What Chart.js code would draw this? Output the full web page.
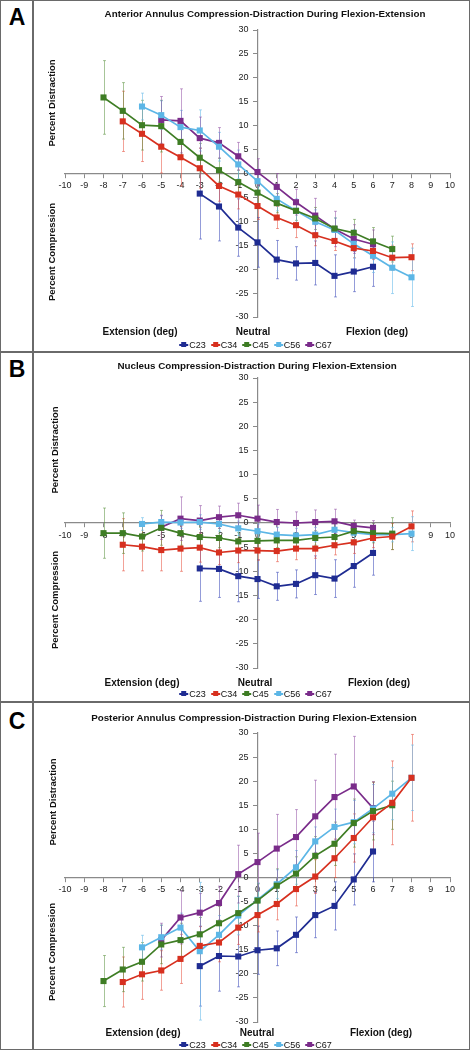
<!DOCTYPE html>
<html>
<head>
<meta charset="utf-8">
<script src="https://cdn.jsdelivr.net/npm/chart.js@4.4.1/dist/chart.umd.min.js"></script>
<style>
body { margin: 0; background: #fff; font-family: "Liberation Sans", Arial, sans-serif; }
#fig { position: relative; width: 470px; height: 1050px; overflow: hidden; background: #fff; }
.line { position: absolute; background: #6a6a6a; }
canvas { position: absolute; left: 33px; }
.t { position: absolute; white-space: nowrap; color: #111; transform: translate(-50%, -50%); }
.title { font-weight: bold; font-size: 9.8px; }
.letter { font-weight: bold; font-size: 23px; color: #000; }
.side { font-weight: bold; font-size: 9.5px; transform: translate(-50%, -50%) rotate(-90deg); }
.foot { font-weight: bold; font-size: 10px; }
.legend { position: absolute; display: flex; align-items: center; font-size: 9px; color: #111; transform: translate(-50%, -50%); white-space: nowrap; }
.legend span.item { display: flex; align-items: center; margin-right: 5px; }
.mk { position: relative; display: inline-block; width: 9px; height: 1.5px; margin-right: 1px; }
.mk::after { content: ''; position: absolute; left: 2px; top: -2px; width: 5px; height: 5px; background: inherit; }
</style>
</head>
<body>
<div id="fig">
  <div class="line" style="left:0;top:0;width:470px;height:1px"></div>
  <div class="line" style="left:0;top:1049px;width:470px;height:1px"></div>
  <div class="line" style="left:0;top:0;width:1px;height:1050px"></div>
  <div class="line" style="left:469px;top:0;width:1px;height:1050px"></div>
  <div class="line" style="left:32px;top:0;width:1.5px;height:1050px"></div>
  <div class="line" style="left:0;top:351px;width:470px;height:1.5px"></div>
  <div class="line" style="left:0;top:701px;width:470px;height:1.5px"></div>

  <canvas id="chartA" width="437" height="351" style="top:0"></canvas>
  <canvas id="chartB" width="437" height="350" style="top:352px"></canvas>
  <canvas id="chartC" width="437" height="348" style="top:702px"></canvas>

  <div class="t letter" style="left:17px;top:17px">A</div>
  <div class="t letter" style="left:17px;top:369px">B</div>
  <div class="t letter" style="left:17px;top:721px">C</div>

  <div class="t title" style="left:265px;top:13px">Anterior Annulus Compression-Distraction During Flexion-Extension</div>
  <div class="t title" style="left:257px;top:365px">Nucleus Compression-Distraction During Flexion-Extension</div>
  <div class="t title" style="left:254px;top:717px">Posterior Annulus Compression-Distraction During Flexion-Extension</div>

  <div class="t side" style="left:51px;top:103px">Percent Distraction</div>
  <div class="t side" style="left:51px;top:252px">Percent Compression</div>
  <div class="t side" style="left:54px;top:450px">Percent Distraction</div>
  <div class="t side" style="left:54px;top:600px">Percent Compression</div>
  <div class="t side" style="left:52px;top:802px">Percent Distraction</div>
  <div class="t side" style="left:51px;top:952px">Percent Compression</div>

  <div class="t foot" style="left:140px;top:331px">Extension (deg)</div>
  <div class="t foot" style="left:253px;top:331px">Neutral</div>
  <div class="t foot" style="left:377px;top:331px">Flexion (deg)</div>
  <div class="t foot" style="left:142px;top:682px">Extension (deg)</div>
  <div class="t foot" style="left:255px;top:682px">Neutral</div>
  <div class="t foot" style="left:379px;top:682px">Flexion (deg)</div>
  <div class="t foot" style="left:143px;top:1032px">Extension (deg)</div>
  <div class="t foot" style="left:257px;top:1032px">Neutral</div>
  <div class="t foot" style="left:381px;top:1032px">Flexion (deg)</div>

  <div class="legend" id="legA" style="left:258px;top:345px"></div>
  <div class="legend" id="legB" style="left:258px;top:694px"></div>
  <div class="legend" id="legC" style="left:258px;top:1045px"></div>
</div>

<script>
// Rotation angle (deg) for every column of the series below
const angles = [-8, -7, -6, -5, -4, -3, -2, -1, 0, 1, 2, 3, 4, 5, 6, 7, 8];
const segments = ['C23', 'C34', 'C45', 'C56', 'C67'];
const xTicks = [-10, 10, 1];
const yTicks = [-30, 30, 5];
const n = null;

// A - anterior annulus (mean, sd)
const aC23 = [n, n, n, n, n, -4.2, -6.9, -11.3, -14.4, -18.0, -18.8, -18.7, -21.4, -20.5, -19.5, n, n];
const aC34 = [n, 10.9, 8.3, 5.6, 3.4, 1.1, -2.6, -4.4, -6.8, -9.2, -10.8, -12.9, -14.1, -15.6, -16.2, -17.6, -17.5];
const aC45 = [15.9, 13.1, 10.1, 9.9, 6.6, 3.3, 0.7, -1.8, -4.0, -6.2, -7.8, -9.4, -11.5, -12.4, -14.2, -15.8, n];
const aC56 = [n, n, 14.0, 12.2, 9.7, 9.0, 5.6, 1.9, -1.6, -5.3, -7.8, -10.1, -11.8, -14.7, -17.2, -19.7, -21.7];
const aC67 = [n, n, n, 11.2, 11.0, 7.4, 6.4, 3.6, 0.3, -2.8, -6.0, -8.8, -11.6, -13.7, -14.8, n, n];
const aC23sd = [n, n, n, n, n, 9.5, 7.2, 6.0, 5.2, 4.0, 3.5, 4.6, 4.4, 4.2, 4.1, n, n];
const aC34sd = [n, 6.3, 5.8, 5.5, 6.0, 4.2, 3.2, 3.0, 2.8, 2.3, 2.6, 2.2, 2.0, 2.0, 1.8, 2.6, 2.8];
const aC45sd = [7.7, 5.9, 5.2, 5.4, 3.6, 3.0, 2.5, 2.5, 2.5, 2.0, 2.0, 2.3, 2.2, 2.8, 2.9, 2.7, n];
const aC56sd = [n, n, 2.8, 3.0, 3.5, 4.3, 3.0, 3.0, 2.5, 2.5, 2.5, 2.5, 2.5, 3.0, 3.5, 5.4, 6.1];
const aC67sd = [n, n, n, 4.9, 6.7, 4.4, 3.2, 2.9, 2.8, 2.8, 2.7, 3.6, 3.7, 3.0, 3.0, n, n];

// B - nucleus
const bC23 = [n, n, n, n, n, -9.4, -9.5, -11.0, -11.6, -13.1, -12.6, -10.8, -11.5, -8.9, -6.2, n, n];
const bC34 = [n, -4.5, -4.9, -5.6, -5.3, -5.1, -6.1, -5.7, -5.7, -5.8, -5.3, -5.3, -4.6, -4.0, -3.1, -2.8, -0.7];
const bC45 = [-2.1, -2.1, -2.8, -1.0, -2.1, -2.9, -3.1, -3.8, -3.7, -3.6, -3.6, -3.1, -2.9, -1.7, -2.1, -2.2, n];
const bC56 = [n, n, -0.2, 0.2, 0.1, 0.2, -0.2, -1.1, -1.7, -2.4, -2.6, -2.4, -1.4, -2.0, -2.4, -2.4, -2.2];
const bC67 = [n, n, n, -0.9, 0.9, 0.5, 1.2, 1.6, 0.9, 0.2, 0.0, 0.2, 0.35, -0.6, -1.0, n, n];
const bC23sd = [n, n, n, n, n, 6.8, 5.9, 5.3, 4.0, 2.9, 2.9, 4.0, 3.9, 4.4, 4.6, n, n];
const bC34sd = [n, 5.4, 5.0, 4.3, 4.7, 3.0, 2.5, 2.5, 2.0, 2.2, 2.3, 2.0, 2.0, 2.3, 2.0, 2.7, 3.2];
const bC45sd = [5.2, 4.2, 3.0, 3.6, 2.5, 2.0, 2.0, 1.8, 1.8, 1.5, 1.5, 1.5, 1.5, 1.8, 2.0, 3.3, n];
const bC56sd = [n, n, 1.3, 1.3, 1.2, 1.5, 1.5, 1.5, 1.5, 1.5, 1.5, 1.5, 1.5, 1.5, 1.5, 1.5, 3.5];
const bC67sd = [n, n, n, 2.5, 4.5, 3.1, 2.3, 2.5, 2.8, 2.6, 2.3, 2.5, 2.5, 1.2, 1.5, n, n];

// C - posterior annulus
const cC23 = [n, n, n, n, n, -18.4, -16.3, -16.4, -15.1, -14.7, -11.9, -7.8, -5.9, -0.4, 5.4, n, n];
const cC34 = [n, -21.7, -20.1, -19.3, -16.9, -14.2, -13.5, -10.4, -7.8, -5.5, -2.4, 0.2, 4.0, 8.2, 12.5, 15.5, 20.7];
const cC45 = [-21.5, -19.1, -17.5, -13.9, -13.0, -11.8, -9.5, -7.4, -4.8, -1.7, 0.8, 4.5, 7.0, 11.3, 13.8, 15.0, n];
const cC56 = [n, n, -14.5, -12.4, -10.4, -15.3, -11.9, -7.9, -4.65, -1.4, 2.1, 7.5, 10.5, 11.5, 14.3, 17.4, 20.7];
const cC67 = [n, n, n, -13.0, -8.3, -7.3, -5.3, 0.7, 3.2, 6.0, 8.4, 12.7, 16.7, 18.9, 14.4, n, n];
const cC23sd = [n, n, n, n, n, 8.3, 7.3, 6.3, 5.0, 3.6, 3.7, 4.7, 5.0, 5.3, 6.3, n, n];
const cC34sd = [n, 5.2, 5.2, 4.1, 5.1, 4.0, 4.0, 3.5, 3.5, 3.3, 3.5, 3.5, 4.0, 5.0, 7.3, 8.7, 9.0];
const cC45sd = [5.3, 4.6, 4.0, 4.0, 3.5, 3.5, 3.5, 3.5, 3.5, 3.5, 3.5, 4.0, 4.5, 5.0, 6.0, 5.0, n];
const cC56sd = [n, n, 2.5, 2.5, 3.0, 14.3, 4.0, 4.0, 3.5, 3.0, 3.5, 3.0, 3.7, 4.5, 5.0, 5.4, 6.8];
const cC67sd = [n, n, n, 3.5, 5.5, 4.0, 3.5, 6.0, 6.0, 7.1, 5.7, 7.5, 8.9, 10.4, 5.5, n, n];

const colors = ['#1f2c92', '#d7301f', '#3e7d24', '#5cb6e6', '#7a2c8a'];
const errColors = ['rgba(60,75,185,0.55)', 'rgba(230,70,50,0.5)', 'rgba(80,140,50,0.5)', 'rgba(110,190,235,0.6)', 'rgba(140,70,160,0.5)'];

// vertical SD whiskers, drawn under the lines
const errorBars = {
    id: 'errorBars',
    beforeDatasetsDraw(chart) {
        const { ctx, scales: { x, y } } = chart;
        chart.data.datasets.forEach(ds => {
            ctx.save();
            ctx.strokeStyle = ds.errorColor;
            ctx.lineWidth = 1;
            ds.data.forEach((p, i) => {
                const sd = ds.errors[i];
                if (p.y === null || sd === null) return;
                const px = Math.round(x.getPixelForValue(p.x)) + 0.5;
                const top = y.getPixelForValue(p.y + sd);
                const bot = y.getPixelForValue(p.y - sd);
                ctx.beginPath();
                ctx.moveTo(px, top); ctx.lineTo(px, bot);
                ctx.moveTo(px - 1.5, top); ctx.lineTo(px + 1.5, top);
                ctx.moveTo(px - 1.5, bot); ctx.lineTo(px + 1.5, bot);
                ctx.stroke();
            });
            ctx.restore();
        });
    }
};

function makeChart(id, series, errors, padding) {
    const datasets = series.map((vals, k) => ({
        label: segments[k],
        data: angles.map((a, i) => ({ x: a, y: vals[i] })),
        errors: errors[k],
        errorColor: errColors[k],
        borderColor: colors[k],
        backgroundColor: colors[k],
        borderWidth: 1.7,
        pointStyle: 'rect',
        pointRadius: 4.3,
        pointBorderWidth: 0,
        tension: 0
    }));
    const tickFont = { family: '"Liberation Sans", Arial, sans-serif', size: 9 };
    return new Chart(document.getElementById(id), {
        type: 'line',
        data: { datasets },
        plugins: [errorBars],
        options: {
            responsive: false,
            animation: false,
            layout: { padding },
            plugins: { legend: { display: false }, tooltip: { enabled: false } },
            scales: {
                x: {
                    type: 'linear',
                    position: { y: 0 },
                    min: xTicks[0], max: xTicks[1],
                    afterFit: s => { s.height = 0; },
                    ticks: { stepSize: xTicks[2], color: '#222', font: tickFont, padding: 3, maxRotation: 0, autoSkip: false },
                    grid: { drawOnChartArea: false, tickLength: 4, color: '#8a8a8a' },
                    border: { color: '#8a8a8a', width: 1.2 }
                },
                y: {
                    type: 'linear',
                    position: { x: 0 },
                    min: yTicks[0], max: yTicks[1],
                    afterFit: s => { s.width = 0; },
                    // labels of a value-positioned axis sit on the line, pad them off it
                    ticks: { stepSize: yTicks[2], color: '#222', font: tickFont, callback: v => v + '\u2002\u2002' },
                    grid: { drawOnChartArea: false, tickLength: 4, color: '#8a8a8a' },
                    border: { color: '#8a8a8a', width: 1.2 }
                }
            }
        }
    });
}

function makeLegend(id) {
    const el = document.getElementById(id);
    segments.forEach((name, k) => {
        const item = document.createElement('span');
        item.className = 'item';
        item.innerHTML = '<span class="mk" style="background:' + colors[k] + '"></span>' + name;
        el.appendChild(item);
    });
}

makeChart('chartA', [aC23, aC34, aC45, aC56, aC67], [aC23sd, aC34sd, aC45sd, aC56sd, aC67sd],
    { left: 32, right: 20, top: 30, bottom: 34 });
makeChart('chartB', [bC23, bC34, bC45, bC56, bC67], [bC23sd, bC34sd, bC45sd, bC56sd, bC67sd],
    { left: 32, right: 20, top: 26, bottom: 34 });
makeChart('chartC', [cC23, cC34, cC45, cC56, cC67], [cC23sd, cC34sd, cC45sd, cC56sd, cC67sd],
    { left: 32, right: 20, top: 31, bottom: 28 });
['legA', 'legB', 'legC'].forEach(makeLegend);
</script>
</body>
</html>
